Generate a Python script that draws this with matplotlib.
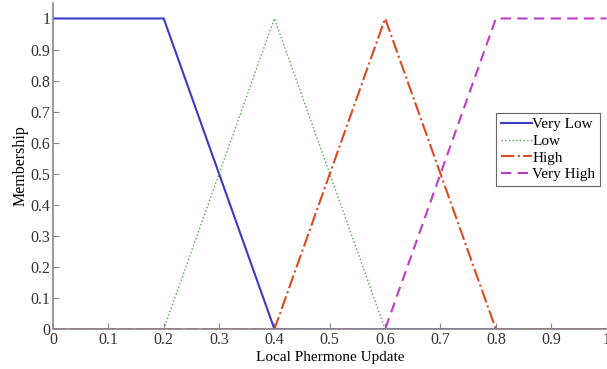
import matplotlib.pyplot as plt

plt.rcParams['font.family'] = ['Liberation Serif', 'DejaVu Serif']

x_very_low = [0, 0.2, 0.4, 1.0]
y_very_low = [1, 1, 0, 0]
x_low = [0, 0.2, 0.4, 0.6, 1.0]
y_low = [0, 0, 1, 0, 0]
x_high = [0, 0.4, 0.6, 0.8, 1.0]
y_high = [0, 0, 1, 0, 0]
x_very_high = [0, 0.6, 0.8, 1.0]
y_very_high = [0, 0, 1, 1]

names = ['Very Low', 'Low', 'High', 'Very High']
xticks = [0, 0.1, 0.2, 0.3, 0.4, 0.5, 0.6, 0.7, 0.8, 0.9, 1]
ytick_labels = ['0', '0.1', '0.2', '0.3', '0.4', '0.5', '0.6', '0.7', '0.8', '0.9', '1']

fig = plt.figure(figsize=(6.07, 3.69), dpi=100)
ax = fig.add_axes([0.0873, 0.108, 0.912, 0.884])

ax.plot(x_very_low, y_very_low, color='#3b3bc8', lw=1.5, ls='-', label=names[0])
ax.plot(x_low, y_low, color='#4fa84f', lw=1.0, ls=':', label=names[1])
ax.plot(x_high, y_high, color='#dd4a22', lw=1.5, ls='-.', label=names[2])
ax.plot(x_very_high, y_very_high, color='#c03cc8', lw=1.5, ls=(0, (5, 3)), label=names[3])

ax.set_xlim(0, 1)
ax.set_ylim(0, 1.05)
ax.set_xticks(xticks)
ax.set_xticklabels([('%g' % t) for t in xticks])
ax.set_yticks([float(t) for t in ytick_labels])
ax.set_yticklabels(ytick_labels)
ax.tick_params(direction='in', length=4, labelsize=11.5, colors='#333333', color='#888888', pad=2)

for s in ['top', 'right']:
    ax.spines[s].set_visible(False)
for s in ['left', 'bottom']:
    ax.spines[s].set_color('#888888')
    ax.spines[s].set_linewidth(1.2)

ax.set_xlabel('Local Phermone Update', fontsize=11, labelpad=2)
ax.set_ylabel('Membership', fontsize=11.5, labelpad=1)

leg = ax.legend(loc='upper left', bbox_to_anchor=(0.801, 0.663), fontsize=11,
                handlelength=2.0, handletextpad=0.05, borderpad=0.3,
                labelspacing=0.2, fancybox=False, framealpha=1, borderaxespad=0)
leg.get_frame().set_edgecolor('#666666')
leg.get_frame().set_linewidth(0.8)

fig.savefig('out.png', dpi=100)
